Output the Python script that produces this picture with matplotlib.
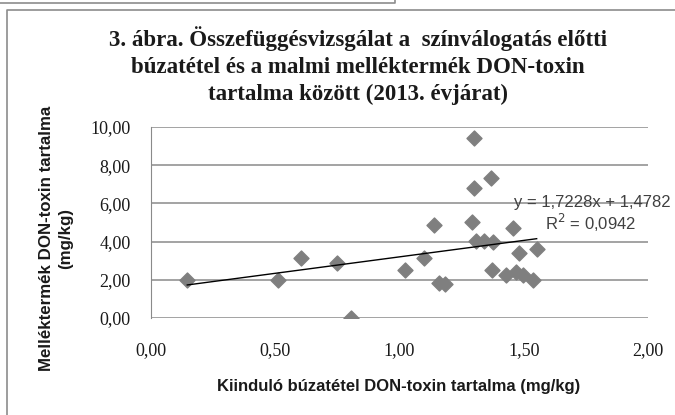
import matplotlib.pyplot as plt
from matplotlib.lines import Line2D

# values
x_vals = [0.146, 0.512, 0.604, 0.747, 0.804, 1.022, 1.099, 1.140, 1.160, 1.183,
          1.291, 1.300, 1.300, 1.307, 1.339, 1.369, 1.371, 1.378, 1.429, 1.457,
          1.468, 1.481, 1.498, 1.538, 1.552]
y_vals = [1.99, 1.99, 3.12, 2.90, 0.02, 2.51, 3.12, 4.87, 1.82, 1.78,
          5.04, 9.41, 6.79, 4.05, 4.05, 7.35, 2.51, 3.99, 2.25, 4.70,
          2.43, 3.42, 2.25, 1.99, 3.61]

slope = 1.7228
intercept = 1.4782
r2 = 0.0942

x_ticks = [0, 0.5, 1.0, 1.5, 2.0]
x_tick_labels = ['0,00', '0,50', '1,00', '1,50', '2,00']
y_ticks = [0, 2, 4, 6, 8, 10]
y_tick_labels = ['0,00', '2,00', '4,00', '6,00', '8,00', '10,00']

title = ('3. ábra. Összefüggésvizsgálat a  színválogatás előtti\n'
         'búzatétel és a malmi melléktermék DON-toxin\n'
         'tartalma között (2013. évjárat)')
x_label = 'Kiinduló búzatétel DON-toxin tartalma (mg/kg)'
y_label = 'Melléktermék DON-toxin tartalma\n(mg/kg)'

W, H = 675, 415
fig = plt.figure(figsize=(W / 100, H / 100), dpi=100)
fig.patch.set_facecolor('white')

# outer frames (chart border and the box cut off above it)
frame = '#8c8c8c'
fig.add_artist(Line2D([7 / W, 7 / W, 1], [0, 1 - 10 / H, 1 - 10 / H],
                      transform=fig.transFigure, color=frame, lw=1.2))
fig.add_artist(Line2D([0, 395 / W, 395 / W], [1 - 3 / H, 1 - 3 / H, 1],
                      transform=fig.transFigure, color=frame, lw=1.2))

ax = fig.add_axes([151 / W, 1 - 318 / H, (648 - 151) / W, (318 - 127) / H])
ax.set_xlim(0, 2)
ax.set_ylim(0, 10)

grid_c = '#8a8a8a'
for s in ['top', 'right', 'bottom']:
    ax.spines[s].set_visible(False)
ax.spines['left'].set_color(grid_c)
ax.yaxis.grid(True, color=grid_c, lw=1.1)
ax.set_axisbelow(True)

ax.scatter(x_vals, y_vals, marker='D', s=58, color='#7f7f7f', zorder=3)

x_line = [min(x_vals), max(x_vals)]
y_line = [slope * v + intercept for v in x_line]
ax.plot(x_line, y_line, color='black', lw=1, zorder=4)

ax.set_xticks(x_ticks)
ax.set_xticklabels(x_tick_labels)
ax.set_yticks(y_ticks)
ax.set_yticklabels(y_tick_labels)
ax.tick_params(length=0, labelsize=13, labelcolor='#1a1a1a')
ax.tick_params(axis='x', pad=17)
ax.tick_params(axis='y', pad=14.5)
for lab in ax.get_xticklabels() + ax.get_yticklabels():
    lab.set_fontfamily('Liberation Serif')

eq = 'y = %sx + %s' % (str(slope).replace('.', ','), str(intercept).replace('.', ','))
fig.text(592 / W, 1 - 202 / H, eq, ha='center', va='center',
         fontsize=12, color='#404040', family='Liberation Sans')
fig.text(591 / W, 1 - 223 / H, 'R$^2$ = ' + ('%.4f' % r2).replace('.', ','),
         ha='center', va='center', fontsize=12, color='#404040',
         family='Liberation Sans')

fig.text(358 / W, 1 - 65.5 / H, title, ha='center', va='center',
         family='Liberation Serif', fontweight='bold', fontsize=16.5,
         linespacing=1.36, color='#1a1a1a')
fig.text(399 / W, 1 - 386 / H, x_label, ha='center', va='center',
         family='Liberation Sans', fontweight='bold', fontsize=12,
         color='#1a1a1a')
fig.text(56 / W, 1 - 238 / H, y_label, ha='center', va='center', rotation=90,
         family='Liberation Sans', fontweight='bold', fontsize=12.2,
         linespacing=1.35, color='#1a1a1a')

fig.savefig('out.png', dpi=100)
